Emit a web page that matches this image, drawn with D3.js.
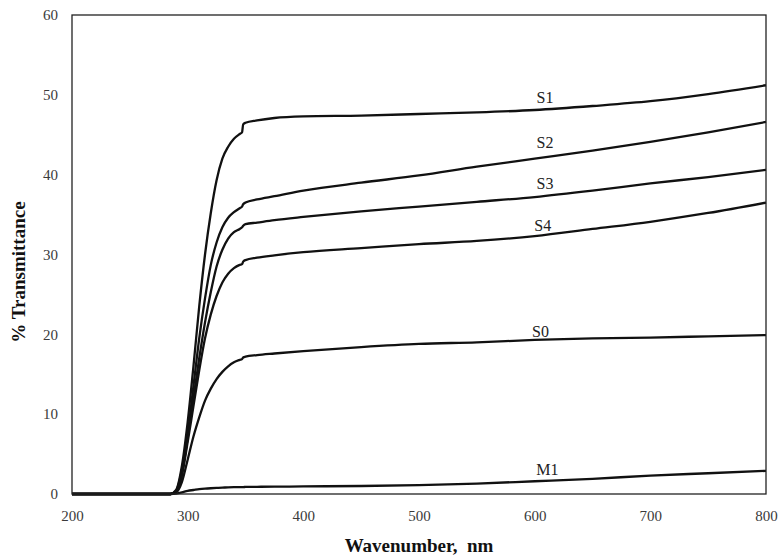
<!DOCTYPE html>
<html>
<head>
<meta charset="utf-8">
<script src="https://cdn.jsdelivr.net/npm/d3@7"></script>
<style>
  html, body { margin: 0; padding: 0; background: #fff; }
  svg { display: block; }
  .tick text { font-family: "Liberation Serif", "Times New Roman", serif; font-size: 15px; fill: #3a3a3a; }
  .title { white-space: pre; }
</style>
</head>
<body>
<svg id="chart" width="779" height="555"></svg>
<script>
// Wavelengths (nm) at which each transmittance curve is sampled
const wavelength = [200, 285, 290, 295, 300, 305, 310, 315, 320, 325, 330, 335, 340, 345, 347, 348, 350, 360, 375, 400, 450, 500, 550, 600, 650, 700, 750, 800];

// % transmittance for each sample
const S1 = [0, 0, 0.5, 3.5, 9, 16, 23.5, 30, 35.2, 39.3, 42, 43.5, 44.5, 45.1, 45.3, 46.3, 46.5, 46.8, 47.1, 47.3, 47.4, 47.6, 47.8, 48.1, 48.6, 49.2, 50.1, 51.2];
const S2 = [0, 0, 0.4, 3, 7.5, 13.5, 19.5, 24.5, 28.7, 31.5, 33.4, 34.6, 35.3, 35.8, 36.0, 36.3, 36.5, 36.9, 37.3, 38.0, 39.0, 39.9, 41.0, 42.0, 43.0, 44.1, 45.3, 46.6];
const S3 = [0, 0, 0.3, 2.5, 7, 12, 17, 21.5, 25.3, 28.5, 30.6, 32, 32.8, 33.2, 33.4, 33.6, 33.8, 34.0, 34.3, 34.7, 35.4, 36.0, 36.6, 37.2, 38.0, 38.9, 39.7, 40.6];
const S4 = [0, 0, 0.3, 2.3, 6.5, 11, 15.5, 19.5, 22.5, 24.8, 26.5, 27.6, 28.3, 28.7, 28.8, 29.1, 29.3, 29.6, 29.9, 30.3, 30.8, 31.3, 31.7, 32.3, 33.2, 34.1, 35.2, 36.5];
const S0 = [0, 0, 0.2, 1.5, 4.3, 7.2, 9.6, 11.7, 13.2, 14.4, 15.3, 16.0, 16.5, 16.8, 16.9, 17.1, 17.2, 17.4, 17.6, 17.9, 18.4, 18.8, 19.0, 19.3, 19.5, 19.6, 19.75, 19.9];
const M1 = [0, 0, 0.05, 0.2, 0.4, 0.5, 0.6, 0.67, 0.72, 0.76, 0.8, 0.83, 0.85, 0.86, 0.87, 0.87, 0.88, 0.9, 0.92, 0.95, 1.0, 1.1, 1.3, 1.6, 1.9, 2.3, 2.6, 2.9];

const seriesNames = ["S1", "S2", "S3", "S4", "S0", "M1"];
const seriesValues = [S1, S2, S3, S4, S0, M1];

// Curve labels: wavelength where each name sits and its height in % units
const labelX = [609, 609, 609, 607, 605, 611];
const labelY = [49.0, 43.3, 38.2, 33.0, 19.7, 2.4];

const xTicks = [200, 300, 400, 500, 600, 700, 800];
const yTicks = [0, 10, 20, 30, 40, 50, 60];

const svg = d3.select("#chart");
const margin = { left: 72, right: 13, top: 15, bottom: 61 };
const W = 779, H = 555;

const x = d3.scaleLinear().domain([200, 800]).range([margin.left, W - margin.right]);
const y = d3.scaleLinear().domain([0, 60]).range([H - margin.bottom, margin.top]);

// Axes (labels only, no tick marks)
const gx = svg.append("g")
  .attr("transform", `translate(0,${H - margin.bottom})`)
  .call(d3.axisBottom(x).tickValues(xTicks).tickSize(0).tickPadding(16).tickFormat(d3.format("d")));
gx.select(".domain").remove();

const gy = svg.append("g")
  .attr("transform", `translate(${margin.left},0)`)
  .call(d3.axisLeft(y).tickValues(yTicks).tickSize(0).tickPadding(14).tickFormat(d3.format("d")));
gy.select(".domain").remove();

// Curves
const line = d3.line()
  .x(d => x(d[0]))
  .y(d => y(d[1]))
  .curve(d3.curveMonotoneX);

seriesValues.forEach(vals => {
  svg.append("path")
    .datum(wavelength.map((w, i) => [w, vals[i]]))
    .attr("d", line)
    .attr("fill", "none")
    .attr("stroke", "#111")
    .attr("stroke-width", 2.3)
    .attr("stroke-linejoin", "round");
});

// Plot frame
svg.append("rect")
  .attr("x", x(200)).attr("y", y(60))
  .attr("width", x(800) - x(200)).attr("height", y(0) - y(60))
  .attr("fill", "none").attr("stroke", "#222").attr("stroke-width", 1.3);

// Curve names
seriesNames.forEach((name, i) => {
  svg.append("text")
    .attr("x", x(labelX[i])).attr("y", y(labelY[i]))
    .attr("text-anchor", "middle")
    .attr("font-family", "'Liberation Serif', 'Times New Roman', serif")
    .attr("font-size", 16)
    .attr("fill", "#222")
    .text(name);
});

// Axis titles
svg.append("text")
  .attr("class", "title")
  .attr("x", (x(200) + x(800)) / 2).attr("y", 552)
  .attr("text-anchor", "middle")
  .attr("font-family", "'Liberation Serif', 'Times New Roman', serif")
  .attr("font-weight", "bold").attr("font-size", 19)
  .attr("fill", "#111")
  .text("Wavenumber,  nm");

svg.append("text")
  .attr("class", "title")
  .attr("transform", "translate(25,272) rotate(-90)")
  .attr("text-anchor", "middle")
  .attr("font-family", "'Liberation Serif', 'Times New Roman', serif")
  .attr("font-weight", "bold").attr("font-size", 19)
  .attr("fill", "#111")
  .text("% Transmittance");
</script>
</body>
</html>
